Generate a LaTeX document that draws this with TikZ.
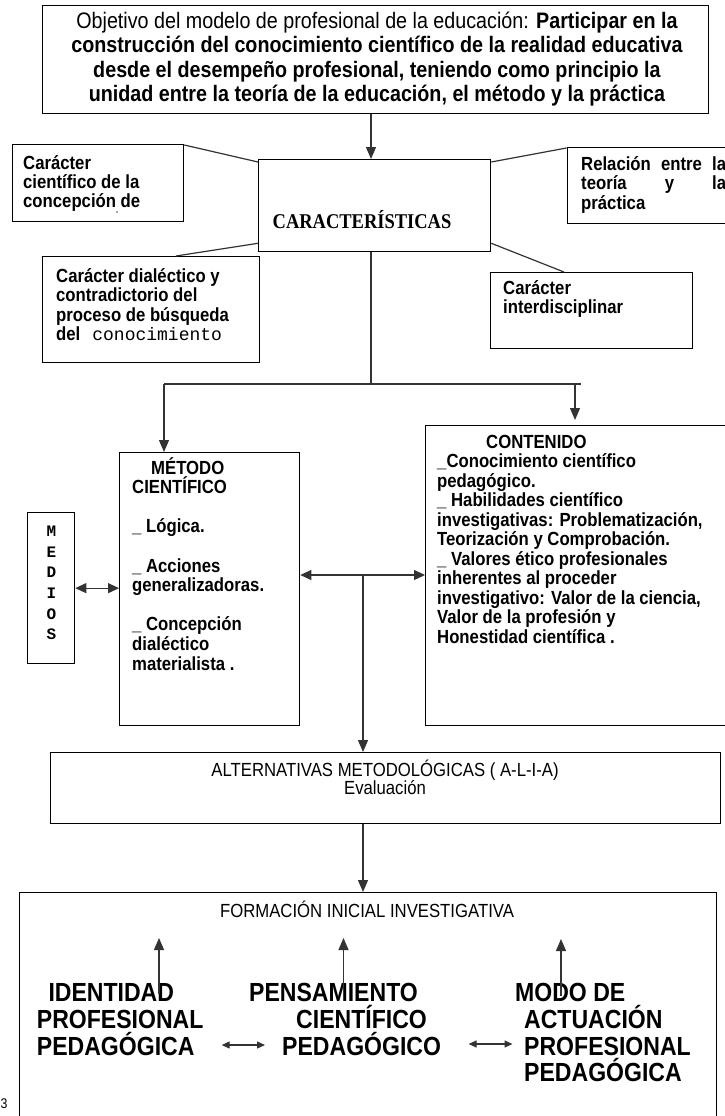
\documentclass[tikz,border=0pt]{standalone}
\usepackage{fontspec}
\setmainfont{Liberation Sans}[FakeStretch=0.88]
\newfontfamily\serifbf{Liberation Serif}[FakeStretch=0.88]
\newfontfamily\monof{Liberation Mono}
\usetikzlibrary{arrows.meta,calc}
\lineskiplimit=-100pt
\newcommand\fs[2]{\fontsize{#1}{#2}\selectfont}
\tikzset{
  box/.style={draw=black, line width=1.3pt, inner sep=0pt, anchor=north west},
  tx/.style={inner sep=0pt, anchor=base west},
  ctx/.style={inner sep=0pt, anchor=base},
  conn/.style={draw=black!80, line width=1.2pt},
  arr/.style={conn, -{Triangle[length=12pt,width=10pt]}},
  darr/.style={conn, {Triangle[length=11pt,width=10pt]}-{Triangle[length=11pt,width=10pt]}},
  sarr/.style={conn, {Triangle[length=8pt,width=7pt]}-{Triangle[length=8pt,width=7pt]}},
}
\begin{document}
\begin{tikzpicture}[x=1pt,y=-1pt]
\fill[white] (0,0) rectangle (724,1116);
\useasboundingbox (0,0) rectangle (724,1116);

% objective
\node[box,minimum width=666pt,minimum height=108pt] (obj) at (42,5) {};
\node[ctx] (objt) at (377,28.5) {\parbox[t]{680pt}{\centering\fs{22.4}{24.5}Objetivo del modelo de profesional de la educación: \textbf{Participar en la}\\\textbf{construcción del conocimiento científico de la realidad educativa}\\\textbf{desde el desempeño profesional, teniendo como principio la}\\\textbf{unidad entre la teoría de la educación, el método y la práctica}}};

% caracteristicas
\node[box,minimum width=232pt,minimum height=92pt] (car) at (258,159) {};
\node[ctx] (cart) at (362,228.5) {\serifbf\bfseries\fs{21}{24}CARACTERÍSTICAS};

% four satellite boxes
\node[box,minimum width=171pt,minimum height=77pt] (cc) at (12,144) {};
\node[tx] (cct) at (23,169.5) {\parbox[t]{160pt}{\raggedright\bfseries\fs{19}{19}Carácter\\científico de la\\concepción de}};
\fill[black!70] (117,212) circle (0.9);

\node[box,minimum width=170pt,minimum height=76pt] (rel) at (566.5,146.5) {};
\node[tx] (relt) at (581,170) {\parbox[t]{145pt}{\bfseries\fs{19}{19.5}Relación\hfill entre\hfill la\\teoría\hfill y\hfill la\\práctica}};

\node[box,minimum width=217pt,minimum height=106pt] (dial) at (42,256) {};
\node[tx] (dialt) at (56,282) {\parbox[t]{200pt}{\raggedright\bfseries\fs{19}{19.5}Carácter dialéctico y\\contradictorio del\\proceso de búsqueda\\del\hspace{12pt}{\mdseries\monof\fs{18}{19.5}conocimiento}}};

\node[box,minimum width=202pt,minimum height=76pt] (inter) at (490,272) {};
\node[tx] (intert) at (503,294) {\parbox[t]{185pt}{\raggedright\bfseries\fs{19}{19.5}Carácter\\interdisciplinar}};

\draw[conn] ($(cc.north east)+(0,1)$) -- ($(car.north west)+(0,3)$);
\draw[conn] ($(rel.north west)+(0,1.5)$) -- ($(car.north east)+(0,3)$);
\draw[conn] ($(dial.north west)+(134,0)$) -- ($(car.south west)+(0,-9)$);
\draw[conn] ($(car.south east)+(0,-9)$) -- ($(inter.north west)+(74,0)$);

% metodo
\node[box,minimum width=180pt,minimum height=273pt] (met) at (119,452) {};
\node[tx] (mett) at (132,474) {\parbox[t]{165pt}{\raggedright\bfseries\fs{19}{19.6}\hspace*{19pt}MÉTODO\\CIENTÍFICO\\\mbox{}\\\_ Lógica.\\\mbox{}\\\_ Acciones\\generalizadoras.\\\mbox{}\\\_ Concepción\\dialéctico\\materialista .}};

% contenido
\node[box,minimum width=310pt,minimum height=300pt] (con) at (425,425) {};
\node[tx] (cont) at (437,448) {\parbox[t]{285pt}{\raggedright\bfseries\fs{19}{19.5}\hspace*{49pt}CONTENIDO\\\_Conocimiento científico\\pedagógico.\\\_ Habilidades científico\\investigativas: Problematización,\\Teorización y Comprobación.\\\_ Valores ético profesionales\\inherentes al proceder\\investigativo: Valor de la ciencia,\\Valor de la profesión y\\Honestidad científica .}};

% trunk
\coordinate (jn) at (371,384);
\coordinate (hl) at (164,384);
\coordinate (hr) at (581,384);
\coordinate (hr2) at (575,384);
\coordinate (cn) at (575,420);
\draw[arr] (obj.south -| jn) -- (car.north -| jn);
\draw[conn] (car.south -| jn) -- (jn);
\draw[conn] (hl) -- (hr);
\draw[arr] (hl) -- (met.north -| hl);
\draw[arr] (hr2) -- (cn);

% medios
\node[box,minimum width=47pt,minimum height=151pt] (med) at (27,512) {};
\node[ctx] (medt) at (51.5,536.7) {\parbox[t]{20pt}{\centering\monof\bfseries\fs{16}{20.6}M\\E\\D\\I\\O\\S}};
\draw[darr] (med.east) -- (med.east -| met.west);

\coordinate (mc) at (363,575);
\draw[darr] (met.east |- mc) -- (con.west |- mc);

% alternativas
\node[box,minimum width=670pt,minimum height=71pt] (alt) at (50,752) {};
\node[ctx] (altt) at (385,776) {\parbox[t]{500pt}{\centering\fs{19}{18.5}ALTERNATIVAS METODOLÓGICAS ( A-L-I-A)\\Evaluación}};
\draw[arr] (mc) -- (alt.north -| mc);

% formacion
\node[box,minimum width=697pt,minimum height=240pt] (form) at (19,892) {};
\node[ctx] (formt) at (367,917.5) {\fs{19}{20}FORMACIÓN INICIAL INVESTIGATIVA};
\draw[arr] (alt.south -| mc) -- (form.north -| mc);

\node[tx] (ident) at (36.7,1001.7) {\parbox[t]{200pt}{\raggedright\bfseries\fs{26.2}{26.7}\hspace*{11.6pt}IDENTIDAD\\PROFESIONAL\\PEDAGÓGICA}};
\node[tx] (pens) at (249,1001.7) {\parbox[t]{220pt}{\raggedright\bfseries\fs{26.2}{26.7}PENSAMIENTO\\\hspace*{47pt}CIENTÍFICO\\\hspace*{33pt}PEDAGÓGICO}};
\node[tx] (modo) at (515,1001.7) {\parbox[t]{220pt}{\raggedright\bfseries\fs{26.2}{26.7}MODO DE\\\hspace*{9pt}ACTUACIÓN\\\hspace*{9pt}PROFESIONAL\\\hspace*{9pt}PEDAGÓGICA}};

\coordinate (u1b) at (159,994);  \coordinate (u1t) at (159,938);
\coordinate (u2b) at (343.5,992); \coordinate (u2t) at (343.5,938);
\coordinate (u3b) at (561,996);  \coordinate (u3t) at (561,939);
\draw[arr] (u1b) -- (u1t);
\draw[arr] (u2b) -- (u2t);
\draw[arr] (u3b) -- (u3t);

\coordinate (d1l) at (221.7,1045); \coordinate (d1r) at (265,1045);
\coordinate (d2l) at (468.6,1044); \coordinate (d2r) at (512.5,1044);
\draw[sarr] (d1l) -- (d1r);
\draw[sarr] (d2l) -- (d2r);

\node[tx] (pg) at (0.5,1108) {\fs{14}{16}3};
\end{tikzpicture}
\end{document}
